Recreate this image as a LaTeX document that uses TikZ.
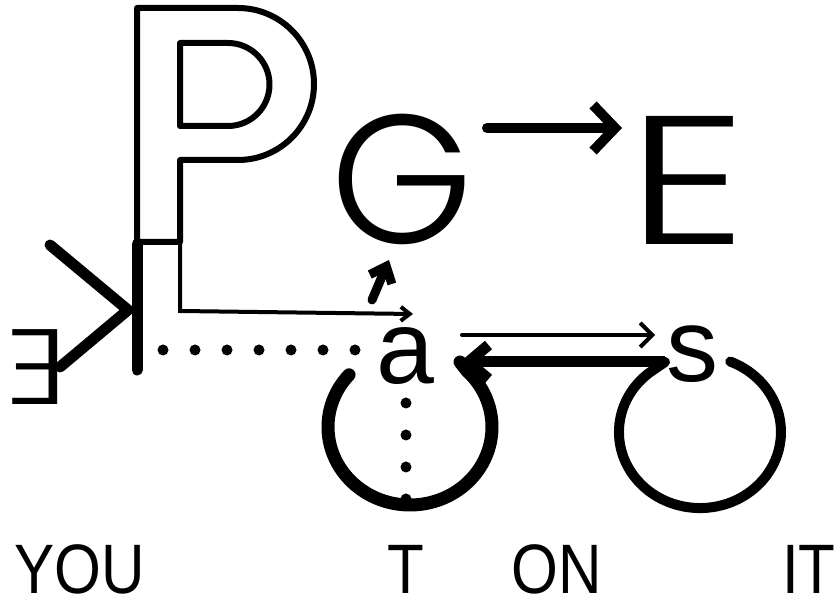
\documentclass[tikz,border=0pt]{standalone}
\usepackage{fontspec}
\setmainfont{Liberation Sans}
\IfFontExistsTF{Poppins Light}{\newfontfamily\geo{Poppins Light}}{\newfontfamily\geo{Poppins}}
\usetikzlibrary{arrows.meta}
\begin{document}
\begin{tikzpicture}[x=1pt,y=-1pt,
  outline/.style={line width=6pt,line join=round},
  heavy/.style={line width=11pt,line cap=round,line join=round},
  thinline/.style={line width=4pt,line cap=round},
  dotline/.style={line width=11pt,line cap=round,dash pattern=on 0pt off 32pt},
  big/.style={inner sep=0pt,anchor=base,text depth=0pt,font=\geo\fontsize{183}{183}\selectfont},
  small/.style={inner sep=0pt,anchor=base,text depth=0pt,font=\fontsize{104}{104}\selectfont},
  word/.style={inner sep=0pt,anchor=base,text depth=0pt,xscale=0.86,font=\fontsize{70}{70}\selectfont}]
\useasboundingbox (0,0) rectangle (839,609);
% big outlined P
\draw[outline] (137,242) -- (137,8) -- (238,8)
  arc[start angle=-90,end angle=90,radius=76] -- (180,160) -- (180,242) -- cycle;
\draw[outline] (180,43) -- (228,43)
  arc[start angle=-90,end angle=90,radius=41.5] -- (180,126) -- cycle;
% thick bar below the P
\draw[heavy] (137,244) -- (137,370);
\coordinate (stemfoot) at (180,242);
% letters
\node[big] (G) at (402,244) {G};
\node[big,xscale=1.3] (E) at (687,245) {E};
\node[small] (a) at (405,384) {a};
\node[small] (s) at (692,382) {s};
\node[inner sep=0pt,anchor=base,text depth=0pt,font=\geo\fontsize{107}{107}\selectfont,xscale=-1.15] (rE) at (37,405) {E};
% < shape
\draw[heavy] (50,245) -- (128,310) -- (60,367);
% arrows
\coordinate (aTop) at (413,314);
\draw[thinline,-{Straight Barb[length=9pt,width=14pt]}] (stemfoot) -- (180,311) -- (aTop);
\coordinate (GE1) at (487,128);
\coordinate (GE2) at (622,128);
\draw[line width=10pt,line cap=round,-{Straight Barb[length=22pt,width=46pt]}] (GE1) -- (GE2);
\coordinate (up1) at (372,300);
\coordinate (up2) at (389,260);
\draw[line width=9pt,line cap=round,-{Straight Barb[length=14pt,width=24pt]}] (up1) -- (up2);
\coordinate (aR1) at (462,335);
\coordinate (sL1) at (655,335);
\draw[thinline,-{Straight Barb[length=12pt,width=24pt]}] (aR1) -- (sL1);
\coordinate (sL2) at (665,362);
\coordinate (aR2) at (460,362);
\draw[line width=11pt,-{Straight Barb[length=20pt,width=34pt]}] (sL2) -- (aR2);
% circles
\draw[line width=13pt,line cap=round] (410,427) ++(222:82 and 78)
  arc[start angle=222,end angle=-46,x radius=82,y radius=78] -- (aR2);
\draw[line width=10pt,line cap=round] (sL2) -- (649,373)
  arc[start angle=231,end angle=-68,x radius=81,y radius=76];
% dotted lines
\draw[dotline] (163,350) -- (375,350);
\draw[dotline] (406,403) -- (406,525);
% bottom words
\node[word] (you) at (80,594) {YOU};
\node[word] (t) at (406,594) {T};
\node[word] (on) at (557,594) {ON};
\node[word] (it) at (809,594) {IT};
\end{tikzpicture}
\end{document}
